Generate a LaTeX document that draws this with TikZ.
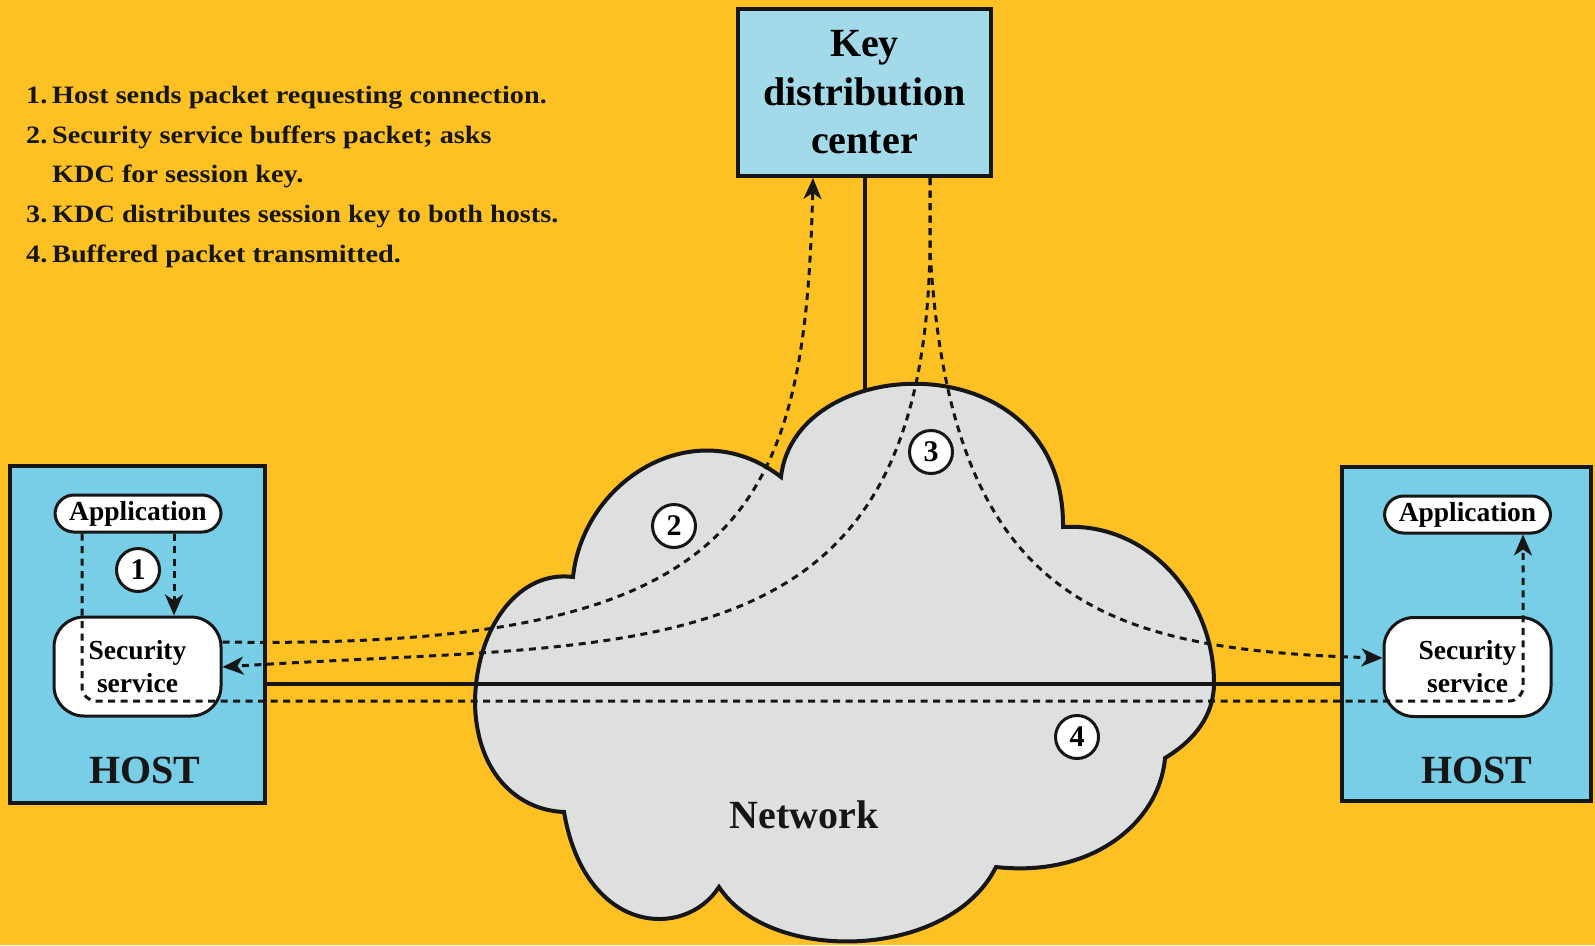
\documentclass[tikz,border=0pt]{standalone}
\usepackage{fontspec}
\setmainfont{Liberation Serif}
\newfontfamily\listfont[FakeStretch=1.13]{Liberation Serif}
\usetikzlibrary{arrows.meta}
\definecolor{bgy}{HTML}{FDC123}
\definecolor{hostblue}{HTML}{78CDE7}
\definecolor{kdcblue}{HTML}{A3DAEA}
\definecolor{cloudgray}{HTML}{DEE0E0}
\definecolor{ink}{HTML}{161616}
\tikzset{
  solidline/.style={draw=ink, line width=4pt},
  dline/.style={draw=ink, line width=3pt, dash pattern=on 7pt off 5.5pt},
  hostbox/.style={draw=ink, line width=4pt, fill=hostblue, inner sep=0pt},
  kdcbox/.style={draw=ink, line width=4pt, fill=kdcblue, inner sep=0pt, align=center,
    font=\fontsize{40pt}{48.5pt}\selectfont\bfseries},
  appbox/.style={draw=ink, line width=3pt, fill=white, rounded corners=19pt,
    minimum width=166pt, minimum height=37pt, inner sep=0pt,
    font=\fontsize{27.5pt}{30pt}\selectfont\bfseries},
  secbox/.style={draw=ink, line width=3pt, fill=white, rounded corners=30pt,
    minimum width=167pt, minimum height=99pt, inner sep=0pt, align=center,
    font=\fontsize{27.5pt}{33pt}\selectfont\bfseries},
  numcircle/.style={circle, draw=ink, line width=3pt, fill=white, minimum size=43pt,
    inner sep=0pt, font=\fontsize{30pt}{30pt}\selectfont\bfseries},
  bigtext/.style={font=\fontsize{40pt}{48pt}\selectfont\bfseries, anchor=base, inner sep=0pt, text=ink},
  listtext/.style={font=\listfont\fontsize{25pt}{30pt}\selectfont\bfseries, anchor=base west,
    inner sep=0pt, text=ink},
}
\begin{document}
\begin{tikzpicture}[x=1pt, y=-1pt, >={Stealth[length=21pt, width=18pt, inset=6pt]}]
\useasboundingbox (0,0) rectangle (1595,945);
\fill[bgy] (0,0) rectangle (1595,945);

% named helper coordinates
\coordinate (nety) at (0,684);
\coordinate (y642) at (0,642);
\coordinate (y667) at (0,667);
\coordinate (y658) at (0,658);
\coordinate (c1) at (174,0);
\coordinate (x813) at (813,0);
\coordinate (x930) at (930,0);
\coordinate (split) at (930,250);
\coordinate (kdcfoot) at (864.5,440);
\coordinate (p4a) at (82,701);
\coordinate (p4b) at (1523,701);

% legend
\node[listtext] (l1) at (26,103) {\makebox[26pt][l]{1.}Host sends packet requesting connection.};
\node[listtext] (l2) at (26,143) {\makebox[26pt][l]{2.}Security service buffers packet; asks};
\node[listtext] (l3) at (52,182) {KDC for session key.};
\node[listtext] (l4) at (26,222) {\makebox[26pt][l]{3.}KDC distributes session key to both hosts.};
\node[listtext] (l5) at (26,262) {\makebox[26pt][l]{4.}Buffered packet transmitted.};

% KDC
\node[kdcbox, minimum width=253pt, minimum height=167pt] (kdc) at (864.5,92.5) {Key\\distribution\\center};
\draw[solidline] (kdc.south) -- (kdcfoot);

% cloud
\filldraw[fill=cloudgray, draw=ink, line width=4pt, line join=miter]
  (475,700)
  .. controls (477,625) and (520,570) .. (573,577)
  .. controls (583,480) and (695,410) .. (781,477)
  .. controls (795,350) and (1065,340) .. (1063,527)
  .. controls (1150,522) and (1214,600) .. (1214,683)
  .. controls (1214,715) and (1195,740) .. (1165,758)
  .. controls (1160,820) and (1095,878) .. (996,867)
  .. controls (950,960) and (770,965) .. (719,887)
  .. controls (685,940) and (585,935) .. (564,812)
  .. controls (515,810) and (475,770) .. (475,700)
  -- cycle;
\node[bigtext] (net) at (804,828) {Network};

% hosts
\node[hostbox, minimum width=255pt, minimum height=337pt] (hostL) at (137.5,634.5) {};
\node[hostbox, minimum width=249pt, minimum height=334pt] (hostR) at (1466.5,634) {};
\node[bigtext] (hostLlabel) at (145,783) {HOST};
\node[bigtext] (hostRlabel) at (1477,783) {HOST};

\node[appbox] (appL) at (138,513.5) {Application};
\node[appbox] (appR) at (1467.5,514.5) {Application};
\node[secbox] (secL) at (137.5,666.5) {Security\\service};
\node[secbox] (secR) at (1467.5,667) {Security\\service};

% network line
\draw[solidline] (hostL.east |- nety) -- (hostR.west |- nety);

% dashed connectors
\draw[dline,->] (appL.south -| c1) -- (secL.north -| c1);
\draw[dline,->] (secL.east |- y642) .. controls (740,650) and (805,520) .. (kdc.south -| x813);
\draw[dline,->] (kdc.south -| x930) -- (split) .. controls (922,680) and (640,640) .. (secL.east |- y667);
\draw[dline,->] (kdc.south -| x930) -- (split) .. controls (950,600) and (1100,650) .. (secR.west |- y658);
\draw[dline,->, rounded corners=14pt] (appL.south -| p4a) -- (p4a) -- (p4b) -- (appR.south -| p4b);

% step numbers
\node[numcircle] (n1) at (138,570) {1};
\node[numcircle] (n2) at (674,526) {2};
\node[numcircle] (n3) at (931,452) {3};
\node[numcircle] (n4) at (1077,737) {4};
\end{tikzpicture}
\end{document}
